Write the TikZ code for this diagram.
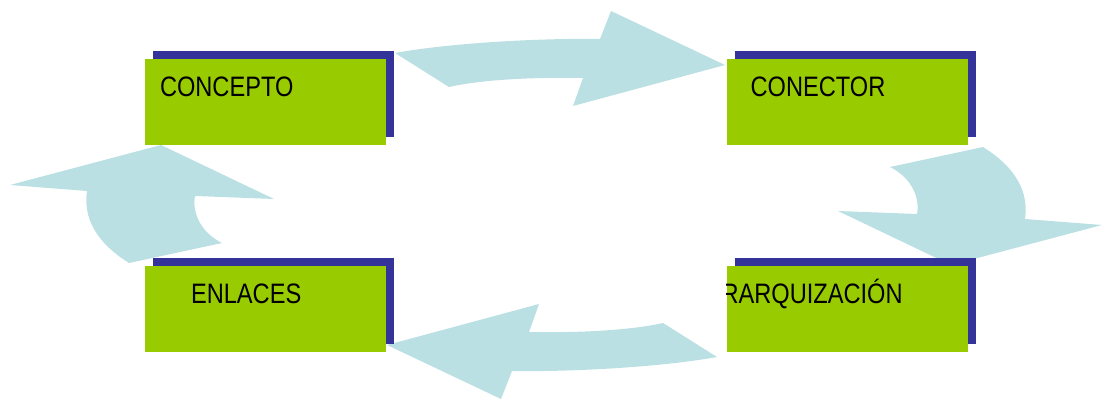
\documentclass[tikz,border=0pt]{standalone}
\usepackage{fontspec}
\newfontfamily\boxfont[FakeStretch=0.84]{Liberation Sans}
\usetikzlibrary{positioning,shadows}

\definecolor{boxgreen}{HTML}{99CC00}
\definecolor{boxshadow}{HTML}{333399}
\definecolor{arrowblue}{HTML}{BBE0E3}

\begin{document}
\begin{tikzpicture}[
		x=0.02cm,
		y=-0.02cm,
		node distance=2.4cm and 6.8cm,
		box/.style={
			fill=boxgreen,
			minimum width=4.82cm,
			minimum height=1.72cm,
			inner sep=0pt,
			general shadow={fill=boxshadow, shadow xshift=0.16cm, shadow yshift=0.16cm}
		},
		box text/.style={
			font=\boxfont\fontsize{16}{19}\selectfont,
			inner sep=0pt,
			anchor=base west
		},
		block arrow/.style={fill=arrowblue}
		]
		\useasboundingbox (0,0) rectangle (1104,401);
		
		% block arrows, behind the boxes
		\fill[block arrow] (395,53) .. controls (450,43) and (540,38) .. (600,39)
			-- (611,11) -- (725,65) -- (573,106) -- (583,78)
			.. controls (530,77) and (480,80) .. (449,87) -- cycle;
		\fill[block arrow, rotate around={180:(556,205)}] (395,53) .. controls (450,43) and (540,38) .. (600,39)
			-- (611,11) -- (725,65) -- (573,106) -- (583,78)
			.. controls (530,77) and (480,80) .. (449,87) -- cycle;
		\fill[block arrow] (161,145) -- (274,199) -- (195,196)
			.. controls (192,212) and (200,232) .. (222,243) -- (129,263)
			.. controls (105,248) and (82,225) .. (87,191) -- (10,185) -- cycle;
		\fill[block arrow, rotate around={180:(556,205)}] (161,145) -- (274,199) -- (195,196)
			.. controls (192,212) and (200,232) .. (222,243) -- (129,263)
			.. controls (105,248) and (82,225) .. (87,191) -- (10,185) -- cycle;
		
		% boxes
		\node[box] (concepto) at (265.5,102) {};
		\node[box] (conector) [right=of concepto] {};
		\node[box] (enlaces) [below=of concepto] {};
		\node[box] (jerarquia) [below=of conector] {};
		
		% texts
		\node[box text] (concepto text) at ([shift={(15,38)}]concepto.north west) {CONCEPTO};
		\node[box text] (conector text) at ([shift={(24,38)}]conector.north west) {CONECTOR};
		\node[box text] (enlaces text) at ([shift={(46,38)}]enlaces.north west) {ENLACES};
		\begin{scope}
			\clip (jerarquia.south west) rectangle (jerarquia.north east);
			\node[box text] (jerarquia text) at ([shift={(-5,38)}]jerarquia.north west) {RARQUIZACIÓN};
		\end{scope}
	\end{tikzpicture}
\end{document}
